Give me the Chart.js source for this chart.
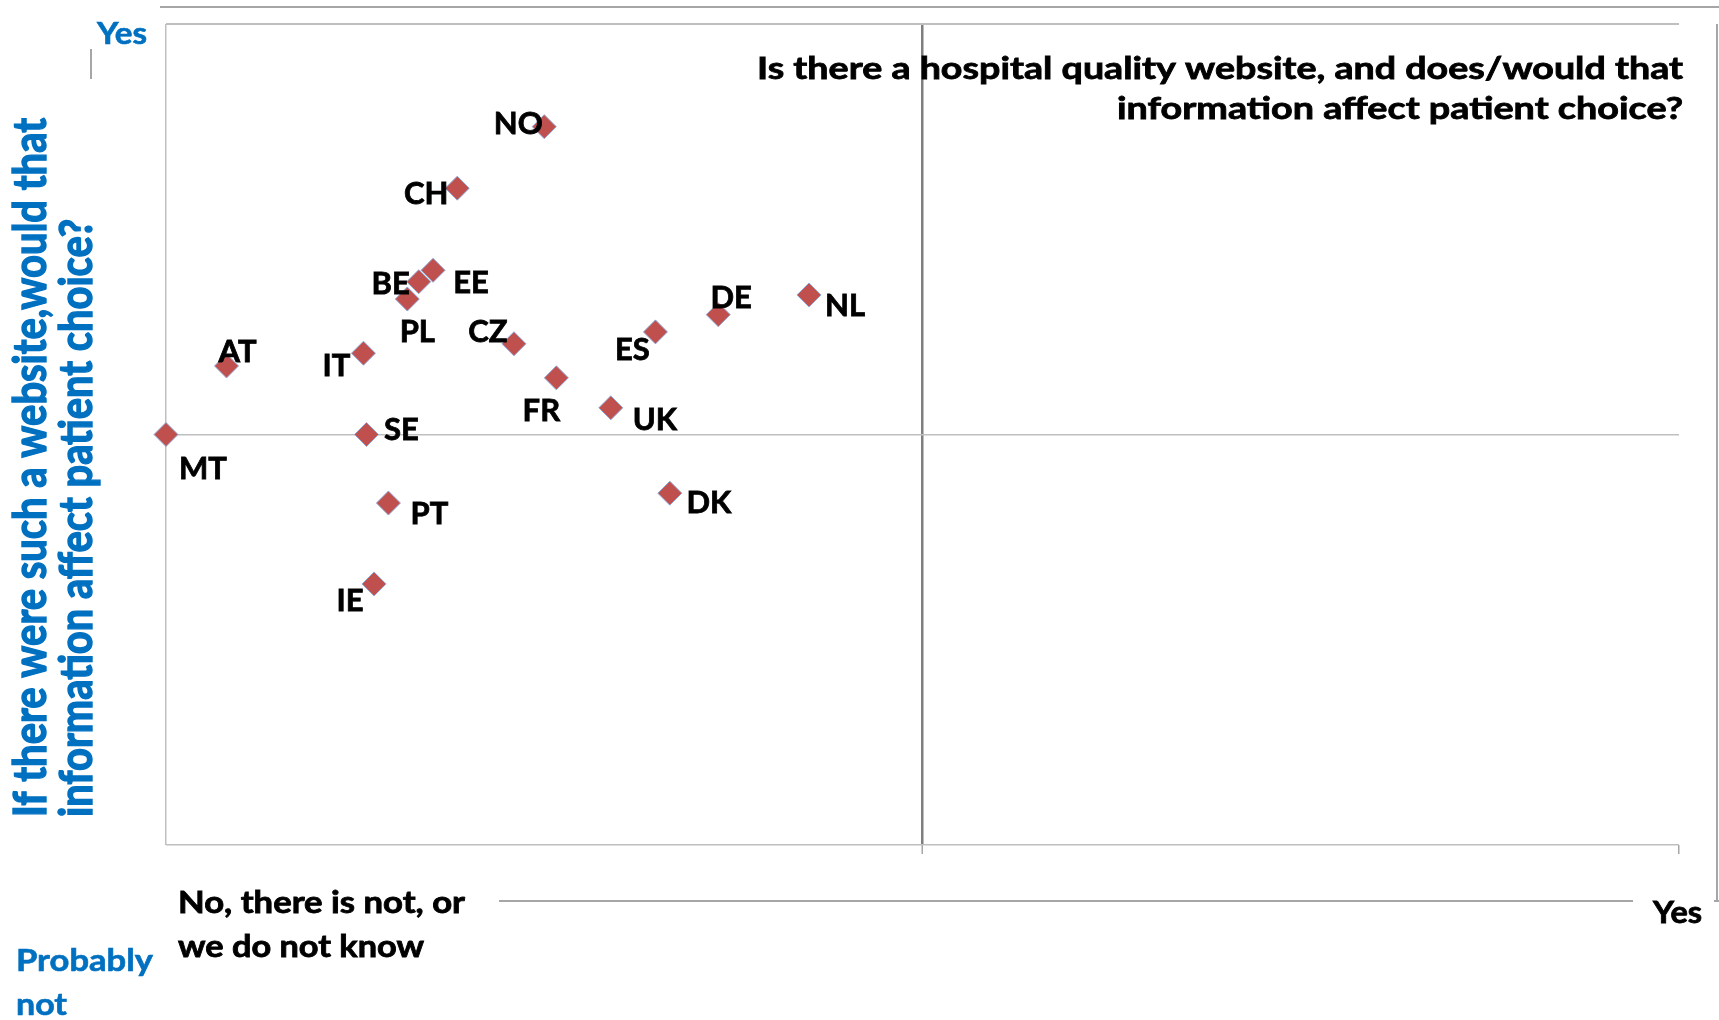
<!DOCTYPE html>
<html>
<head>
<meta charset="utf-8">
<script src="https://cdn.jsdelivr.net/npm/chart.js@4"></script>
<style>
  html, body { margin: 0; padding: 0; background: #fff; }
  canvas { display: block; }
</style>
</head>
<body>
<canvas id="myChart" width="1719" height="1020"></canvas>
<script>
// data (x: website exists/affects choice, y: would it affect choice)
var countries = ['NO', 'CH', 'EE', 'BE', 'PL', 'AT', 'IT', 'CZ', 'FR', 'ES', 'DE', 'NL', 'UK', 'SE', 'MT', 'PT', 'IE', 'DK'];
var websiteScore = [0.50, 0.385, 0.353, 0.334, 0.319, 0.08, 0.261, 0.46, 0.516, 0.647, 0.73, 0.85, 0.588, 0.265, 0.0, 0.294, 0.275, 0.666];
var choiceScore = [1.75, 1.60, 1.40, 1.372, 1.33, 1.167, 1.198, 1.221, 1.138, 1.25, 1.292, 1.34, 1.065, 1.0, 1.0, 0.833, 0.636, 0.857];

var titleLines = ['Is there a hospital quality website, and does/would that', 'information affect patient choice?'];
var yTitleLines = ['If there were such a website,would that', 'information affect patient choice?'];
var xEndLabels = [['No, there is not, or', 'we do not know'], ['Yes']];
var yEndLabels = [['Probably', 'not'], ['Yes']];

// where each country label sits relative to its marker (px)
var labelOffsets = {
  NO: [-26, -3], CH: [-31, 6], BE: [-28, 2], EE: [38, 13], PL: [10, 33],
  AT: [11, -14], IT: [-27, 13], CZ: [-26, -12], FR: [-15, 33], ES: [-23, 18],
  DE: [13, -17], NL: [36, 11], UK: [44, 12], SE: [35, -5], MT: [37, 34],
  PT: [41, 11], IE: [-24, 17], DK: [39, 10]
};

var blue = '#0070C0';

// draws text squeezed/stretched to an exact width, a bit heavier like the original
function fitText(ctx, text, x, y, w, align, weight) {
  var nat = ctx.measureText(text).width;
  ctx.save();
  ctx.translate(x, y);
  ctx.scale(w / nat, 1);
  ctx.textAlign = align;
  ctx.fillText(text, 0, 0);
  if (weight) {
    ctx.lineWidth = weight;
    ctx.strokeStyle = ctx.fillStyle;
    ctx.strokeText(text, 0, 0);
  }
  ctx.restore();
}

var frame = {
  id: 'frame',
  beforeDraw: function(chart) {
    var ctx = chart.ctx;
    ctx.save();
    ctx.strokeStyle = '#A6A6A6';
    ctx.lineWidth = 2;
    ctx.beginPath();
    ctx.moveTo(160, 7); ctx.lineTo(1719, 7);
    ctx.moveTo(1717, 24); ctx.lineTo(1717, 901);
    ctx.moveTo(499, 901); ctx.lineTo(1633, 901);
    ctx.moveTo(1714, 901); ctx.lineTo(1719, 901);
    ctx.moveTo(91, 49); ctx.lineTo(91, 79);
    ctx.stroke();
    ctx.restore();
  },
  afterDatasetsDraw: function(chart) {
    var ctx = chart.ctx;
    var meta = chart.getDatasetMeta(0);
    ctx.save();
    ctx.fillStyle = '#000';
    ctx.strokeStyle = '#000';
    ctx.lineWidth = 0.8;
    ctx.font = 'bold 31px Lato';
    ctx.textAlign = 'center';
    ctx.textBaseline = 'middle';
    meta.data.forEach(function(pt, i) {
      var off = labelOffsets[countries[i]];
      ctx.fillText(countries[i], pt.x + off[0], pt.y + off[1]);
      ctx.strokeText(countries[i], pt.x + off[0], pt.y + off[1]);
    });

    // chart title, top right inside the plot
    ctx.textBaseline = 'alphabetic';
    ctx.font = 'bold 31px Lato';
    fitText(ctx, titleLines[0], 1683, 79, 926, 'right', 0.8);
    fitText(ctx, titleLines[1], 1683, 119, 566, 'right', 0.8);

    // x axis end labels
    ctx.font = 'bold 30px Lato';
    fitText(ctx, xEndLabels[0][0], 178, 913, 287, 'left', 0.8);
    fitText(ctx, xEndLabels[0][1], 178, 957, 246, 'left', 0.8);
    fitText(ctx, xEndLabels[1][0], 1653, 923, 49, 'left', 0.8);

    // y axis end labels
    ctx.fillStyle = blue;
    fitText(ctx, yEndLabels[1][0], 97, 44, 50, 'left', 0.6);
    fitText(ctx, yEndLabels[0][0], 16, 971, 137, 'left', 0.6);
    fitText(ctx, yEndLabels[0][1], 16, 1015, 51, 'left', 0.6);

    // y axis title, rotated
    ctx.font = 'bold 45px Lato';
    ctx.save();
    ctx.translate(46, 817);
    ctx.rotate(-Math.PI / 2);
    fitText(ctx, yTitleLines[0], 0, 0, 699, 'left', 1.4);
    ctx.restore();
    ctx.save();
    ctx.translate(92, 817);
    ctx.rotate(-Math.PI / 2);
    fitText(ctx, yTitleLines[1], 0, 0, 598, 'left', 1.4);
    ctx.restore();
    ctx.restore();
  }
};

document.addEventListener('DOMContentLoaded', function(){
  var ctx = document.getElementById('myChart').getContext('2d');
  var points = websiteScore.map(function(x, i) { return { x: x, y: choiceScore[i] }; });
  var chart = new Chart(ctx, {
      type: 'scatter',
      data: {
          datasets: [{
              label: 'Countries',
              data: points,
              backgroundColor: '#C0504D',
              borderColor: '#8FA8D6',
              borderWidth: 1,
              pointStyle: 'rectRot',
              pointRadius: 12,
              pointHoverRadius: 12,
              clip: false
          }]
      },
      options: {
        responsive: false,
        animation: false,
        devicePixelRatio: 1,
        layout: {
          autoPadding: false,
          padding: { left: 166, right: 40, top: 24, bottom: 166 }
        },
        plugins: {
          legend: { display: false },
          tooltip: { enabled: false },
          title: { display: false }
        },
        scales: {
          x: {
            min: 0, max: 2,
            ticks: { display: false, stepSize: 1 },
            border: { display: false },
            grid: {
              drawTicks: true,
              tickLength: 9,
              color: function(c) {
                if (c.tick.value === 1) return '#7F7F7F';
                if (c.tick.value === 0) return '#BFBFBF';
                return 'rgba(0,0,0,0)';
              },
              lineWidth: function(c) { return c.tick.value === 1 ? 2.5 : 1.5; },
              tickColor: function(c) { return c.tick.value === 0 ? 'rgba(0,0,0,0)' : '#A6A6A6'; },
              tickWidth: 1.5
            }
          },
          y: {
            min: 0, max: 2,
            ticks: { display: false, stepSize: 1 },
            border: { display: false },
            grid: {
              drawTicks: false,
              color: '#BFBFBF',
              lineWidth: function(c) { return c.tick.value === 2 ? 2 : 1.5; }
            }
          }
        }
      },
      plugins: [frame]
  });
});
</script>
</body>
</html>
